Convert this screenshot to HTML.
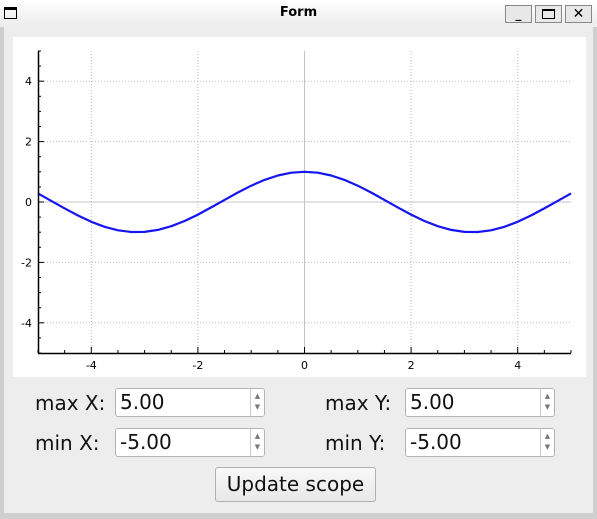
<!DOCTYPE html>
<html><head><meta charset="utf-8"><style>
body{margin:0;width:597px;height:519px;overflow:hidden;background:#cfcfcf;font-family:"DejaVu Sans","Liberation Sans",sans-serif;position:relative}
.abs{position:absolute}
.lbl{position:absolute;font-size:20px;color:#111}
.spin{position:absolute;width:150px;height:29px;background:#fff;border:1px solid #b5b5b5;border-radius:3px;box-sizing:border-box}
.spin span{position:absolute;left:4px;top:1px;font-size:20px;color:#111}
.spin .arr{position:absolute;right:0;top:0;width:14px;height:27px;border-left:1px solid #ccc;font-size:7px;color:#777;text-align:center;line-height:11px;padding-top:2px;box-sizing:border-box}
</style></head><body>
<div class="abs" style="left:0;top:0;width:597px;height:27px;background:linear-gradient(#fff,#ececec)">
 <div class="abs" style="left:4px;top:7px;width:13px;height:12px;border:1px solid #000;border-top:3px solid #000;box-sizing:border-box"></div>
 <div class="abs" style="left:0;width:597px;top:5px;text-align:center;font-weight:bold;font-size:13px">Form</div>
 <div class="abs" style="left:505px;top:5px;width:27px;height:18px;border:1px solid #888;box-sizing:border-box;background:#e8e8e8;font-size:12px;text-align:center;line-height:16px;font-weight:bold">_</div>
 <div class="abs" style="left:535px;top:5px;width:27px;height:18px;border:1px solid #888;box-sizing:border-box;background:#e8e8e8"><div class="abs" style="left:6px;top:3px;width:13px;height:10px;border:1px solid #000;border-top:2px solid #000;box-sizing:border-box"></div></div>
 <div class="abs" style="left:565px;top:5px;width:27px;height:18px;border:1px solid #888;box-sizing:border-box;background:#e8e8e8;font-size:14px;text-align:center;line-height:16px;font-weight:bold">✕</div>
</div>
<div class="abs" style="left:4px;top:27px;width:589px;height:486px;background:#ededed"></div>
<svg class="abs" style="left:13px;top:37px" width="573" height="340" id="plot"></svg>
<div class="lbl" style="left:35px;top:391px">max X:</div>
<div class="spin" style="left:115px;top:388px"><span>5.00</span><div class="arr">▲<br>▼</div></div>
<div class="lbl" style="left:35px;top:431px">min X:</div>
<div class="spin" style="left:115px;top:428px"><span>-5.00</span><div class="arr">▲<br>▼</div></div>
<div class="lbl" style="left:325px;top:391px">max Y:</div>
<div class="spin" style="left:405px;top:388px"><span>5.00</span><div class="arr">▲<br>▼</div></div>
<div class="lbl" style="left:325px;top:431px">min Y:</div>
<div class="spin" style="left:405px;top:428px"><span>-5.00</span><div class="arr">▲<br>▼</div></div>
<div class="abs" style="left:215px;top:467px;width:161px;height:35px;border:1px solid #b0b0b0;border-radius:3px;box-sizing:border-box;background:linear-gradient(#f8f8f8,#e8e8e8);font-size:20px;text-align:center;line-height:32px;color:#111">Update scope</div>
<script>
const xs=[-5,-4.75,-4.5,-4.25,-4,-3.75,-3.5,-3.25,-3,-2.75,-2.5,-2.25,-2,-1.75,-1.5,-1.25,-1,-0.75,-0.5,-0.25,0,0.25,0.5,0.75,1,1.25,1.5,1.75,2,2.25,2.5,2.75,3,3.25,3.5,3.75,4,4.25,4.5,4.75,5];
const ys=[0.284,0.037,-0.211,-0.446,-0.654,-0.820,-0.936,-0.994,-0.990,-0.924,-0.801,-0.628,-0.416,-0.178,0.071,0.315,0.540,0.732,0.878,0.969,1,0.969,0.878,0.732,0.540,0.315,0.071,-0.178,-0.416,-0.628,-0.801,-0.924,-0.990,-0.994,-0.936,-0.820,-0.654,-0.446,-0.211,0.037,0.284];
const xTicks=[-4,-2,0,2,4];
const yTicks=[-4,-2,0,2,4];
const xMinors=[-5,-4.5,-4,-3.5,-3,-2.5,-2,-1.5,-1,-0.5,0,0.5,1,1.5,2,2.5,3,3.5,4,4.5,5];
const yMinors=[-5,-4.5,-4,-3.5,-3,-2.5,-2,-1.5,-1,-0.5,0,0.5,1,1.5,2,2.5,3,3.5,4,4.5,5];
const NS='http://www.w3.org/2000/svg';
const svg=document.getElementById('plot');
const L=25,R=558,T=14,B=316;
const sx=v=>L+(v+5)/10*(R-L);
const sy=v=>B-(v+5)/10*(B-T);
function mk(tag,attrs){const e=document.createElementNS(NS,tag);for(const k in attrs)e.setAttribute(k,attrs[k]);svg.appendChild(e);return e;}
mk('rect',{x:0,y:0,width:573,height:340,fill:'#fff'});
xTicks.forEach(t=>{if(t!==0){const g=mk('line',{x1:sx(t),x2:sx(t),y1:T,y2:B,stroke:'#bbb','stroke-dasharray':'1,2'});

}});
yTicks.forEach(t=>{if(t!==0){const g=mk('line',{x1:L,x2:R,y1:sy(t),y2:sy(t),stroke:'#bbb','stroke-dasharray':'1,2'});

}});
const z1=mk('line',{x1:sx(0),x2:sx(0),y1:T,y2:B,stroke:'#c4c4c4'});


const z2=mk('line',{x1:L,x2:R,y1:sy(0),y2:sy(0),stroke:'#c4c4c4'});


const pts=xs.map((x,i)=>sx(x).toFixed(1)+','+sy(ys[i]).toFixed(1)).join(' ');
const c=mk('polyline',{points:pts,fill:'none',stroke:'#1515f0','stroke-width':2.2,'stroke-linejoin':'round'});


const ax=mk('line',{x1:L,x2:R,y1:B+0.5,y2:B+0.5,stroke:'#000','stroke-width':1.5});


const ay=mk('line',{x1:L+0.5,x2:L+0.5,y1:T,y2:B,stroke:'#000','stroke-width':1.5});


xMinors.forEach(t=>{const major=xTicks.includes(t);mk('line',{x1:sx(t),x2:sx(t),y1:B,y2:B-(major?6:3),stroke:'#000'});});
yMinors.forEach(t=>{const major=yTicks.includes(t);mk('line',{x1:L,x2:L+(major?6:3),y1:sy(t),y2:sy(t),stroke:'#000'});});
xTicks.forEach(t=>{const e=mk('text',{x:sx(t),y:B+16,'text-anchor':'middle','font-size':11,'font-family':'DejaVu Sans, sans-serif'});e.textContent=String(t);

});
yTicks.forEach(t=>{const e=mk('text',{x:L-6,y:sy(t)+4,'text-anchor':'end','font-size':11,'font-family':'DejaVu Sans, sans-serif'});e.textContent=String(t);

});
</script>
</body></html>
